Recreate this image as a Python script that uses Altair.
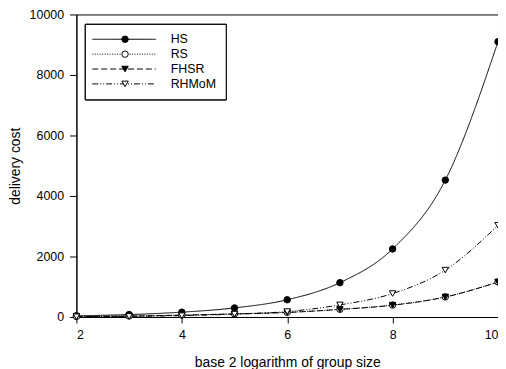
import altair as alt
import pandas as pd

x_vals = [2, 3, 4, 5, 6, 7, 8, 9, 10]
hs = [40, 80, 160, 300, 570, 1135, 2250, 4525, 9100]
rs = [16, 32, 62, 105, 155, 255, 395, 665, 1160]
fhsr = [15, 30, 60, 100, 150, 250, 390, 660, 1155]
rhmom = [10, 20, 45, 95, 180, 400, 775, 1550, 3030]

names = ["HS", "RS", "FHSR", "RHMoM"]
shapes = ["circle", "circle", "triangle-down", "triangle-down"]
fills = ["black", "white", "black", "white"]
dashes = [[1, 0], [1, 1.5], [6, 3], [6, 2, 1, 2, 1, 2]]

rows = []
for name, vals in zip(names, [hs, rs, fhsr, rhmom]):
    for xv, yv in zip(x_vals, vals):
        rows.append({"size": xv, "cost": yv, "series": name, "order": names.index(name)})
df = pd.DataFrame(rows)
leg = pd.DataFrame({"series": names})

FONT = "Liberation Sans"

xenc = alt.X("size:Q", scale=alt.Scale(domain=[2, 10], nice=False),
             axis=alt.Axis(values=[2, 4, 6, 8, 10], title="base 2 logarithm of group size",
                           titlePadding=14, labelPadding=6, tickSize=6))
yenc = alt.Y("cost:Q", scale=alt.Scale(domain=[0, 10000], nice=False),
             axis=alt.Axis(values=[0, 2000, 4000, 6000, 8000, 10000], format="d",
                           title="delivery cost", titlePadding=7, labelPadding=6, tickSize=7))

shape_enc = alt.Shape("series:N", scale=alt.Scale(domain=names, range=shapes), legend=None)
fill_enc = alt.Fill("series:N", scale=alt.Scale(domain=names, range=fills), legend=None)
dash_enc = alt.StrokeDash("series:N", scale=alt.Scale(domain=names, range=dashes), legend=None)

lines = alt.Chart(df).mark_line(color="black", strokeWidth=1, interpolate="monotone").encode(
    x=xenc, y=yenc, strokeDash=dash_enc, detail="series:N"
)
points = alt.Chart(df).mark_point(stroke="black", strokeWidth=1, size=42, opacity=1, filled=False).encode(
    x=xenc, y=yenc, shape=shape_enc, fill=fill_enc, order=alt.Order("order:Q")
)
data_layer = alt.layer(lines, points)

# legend box
box = alt.Chart(leg).mark_rect(fill="white", stroke="black", strokeWidth=1).encode(
    x=alt.value(9), x2=alt.value(151), y=alt.value(10), y2=alt.value(86)
)
ly = alt.Y("series:N", scale=alt.Scale(type="point", domain=names, range=[25, 70], padding=0), axis=None)
leg_lines = alt.Chart(leg).mark_rule(color="black", strokeWidth=1).encode(
    x=alt.value(16), x2=alt.value(80), y=ly, strokeDash=dash_enc
)
leg_pts = alt.Chart(leg).mark_point(stroke="black", strokeWidth=1, size=42, opacity=1, filled=False).encode(
    x=alt.value(49), y=ly, shape=shape_enc, fill=fill_enc
)
leg_txt = alt.Chart(leg).mark_text(align="left", baseline="middle", font=FONT, fontSize=12.5).encode(
    x=alt.value(95), y=ly, text="series:N"
)
legend = alt.layer(box, leg_lines, leg_pts, leg_txt)

chart = alt.layer(data_layer, legend).resolve_scale(y="independent").properties(
    width=425, height=305,
    autosize=alt.AutoSizeParams(type="none"),
    padding={"left": 69, "top": 5, "right": 0, "bottom": 62},
    background="white",
).configure_view(stroke="black", strokeWidth=1).configure_axis(
    grid=False, domainColor="black", tickColor="black", labelColor="black", titleColor="black",
    labelFont=FONT, titleFont=FONT, labelFontSize=12.5, titleFontSize=14, titleFontWeight="normal",
    domainWidth=1, tickWidth=1
)

chart.save("out.html", embed_options={"renderer": "svg", "actions": False})
